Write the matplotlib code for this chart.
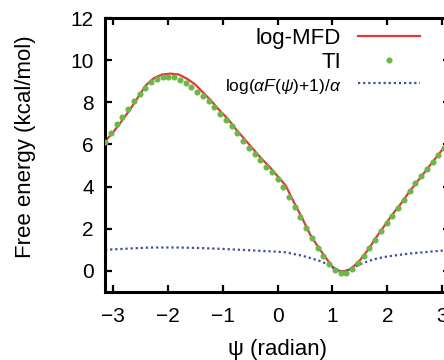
import numpy as np
import matplotlib
matplotlib.use('Agg')
import matplotlib.pyplot as plt

plt.rcParams['font.family'] = ['Liberation Sans', 'DejaVu Sans']
plt.rcParams['mathtext.fontset'] = 'custom'
plt.rcParams['mathtext.rm'] = 'Liberation Sans'
plt.rcParams['mathtext.it'] = 'Liberation Sans:italic'

# log-MFD free energy profile (kcal/mol)
psi_mfd = [-3.1416, -3.0, -2.85, -2.7, -2.55, -2.4, -2.25, -2.1, -1.95, -1.8,
           -1.65, -1.5, -1.35, -1.2, -1.05, -0.9, -0.75, -0.6, -0.45, -0.3,
           -0.15, 0.0, 0.15, 0.3, 0.45, 0.6, 0.75, 0.9, 1.0, 1.1,
           1.2, 1.3, 1.4, 1.5, 1.65, 1.8, 1.95, 2.1, 2.25, 2.4,
           2.55, 2.7, 2.85, 3.0, 3.1416]
f_mfd = [6.15, 6.55, 7.07, 7.6, 8.2, 8.8, 9.15, 9.32, 9.36, 9.32,
         9.12, 8.85, 8.45, 8.05, 7.6, 7.2, 6.7, 6.25, 5.8, 5.35,
         4.95, 4.5, 4.05, 3.25, 2.5, 1.7, 1.1, 0.55, 0.2, 0.02,
         -0.03, 0.05, 0.25, 0.5, 1.0, 1.6, 2.15, 2.7, 3.2, 3.75,
         4.25, 4.75, 5.25, 5.75, 6.2]

# transformed profile log(aF+1)/a
f_log = [1.00, 1.02, 1.04, 1.06, 1.08, 1.10, 1.11, 1.11, 1.11, 1.11,
         1.10, 1.09, 1.08, 1.06, 1.05, 1.03, 1.01, 0.99, 0.97, 0.95,
         0.93, 0.91, 0.88, 0.80, 0.72, 0.61, 0.49, 0.33, 0.16, 0.02,
         -0.03, 0.05, 0.18, 0.31, 0.46, 0.58, 0.66, 0.72, 0.77, 0.82,
         0.86, 0.89, 0.93, 0.96, 1.00]

# thermodynamic integration, every 6 degrees
psi_ti_deg = list(range(-180, 181, 6))
f_ti = [6.10, 6.55, 6.95, 7.30, 7.68, 8.05, 8.40, 8.70, 8.95, 9.10,
        9.20, 9.22, 9.18, 9.08, 8.92, 8.72, 8.50, 8.28, 8.05, 7.78,
        7.45, 7.15, 6.88, 6.52, 6.18, 5.85, 5.55, 5.25, 4.95, 4.68,
        4.38, 3.98, 3.50, 3.02, 2.55, 2.05, 1.55, 1.10, 0.70, 0.32,
        0.05, -0.10, -0.08, 0.10, 0.38, 0.72, 1.10, 1.48, 1.88, 2.25,
        2.62, 3.00, 3.38, 3.78, 4.15, 4.50, 4.82, 5.15, 5.50, 5.82,
        6.15]
psi_ti = np.deg2rad(psi_ti_deg)

fig = plt.figure(figsize=(4.44, 3.6), dpi=100)
ax = fig.add_axes([0.2365, 0.189, 0.777, 0.761])

ax.plot(psi_mfd, f_mfd, color='#e0393a', lw=1.6, label='log-MFD', zorder=2)
ax.plot(psi_ti, f_ti, 'o', color='#6cb847', ms=4.4, mew=0, label='TI', zorder=3)
ax.plot(psi_mfd, f_log, color='#3e4ea3', lw=1.6, ls=(0, (1, 1.3)),
        label=r'log($\alpha F(\psi)$+1)/$\alpha$', zorder=2)

ax.set_xlim(-np.pi, np.pi)
ax.set_ylim(-1, 12)
ax.set_xticks([-3, -2, -1, 0, 1, 2, 3])
ax.set_yticks([0, 2, 4, 6, 8, 10, 12])
ax.tick_params(direction='in', top=True, right=True, length=5, width=1.6,
               labelsize=15)
ax.tick_params(axis='x', pad=11)
ax.tick_params(axis='y', pad=8)
for s in ax.spines.values():
    s.set_linewidth(2.2)

ax.set_xlabel(r'ψ (radian)', fontsize=16, labelpad=9.5)
ax.set_ylabel('Free energy (kcal/mol)', fontsize=16)
ax.yaxis.set_label_coords(-0.2, 0.53)

leg = ax.legend(loc='upper right', bbox_to_anchor=(0.913, 0.963),
                markerfirst=False, frameon=False, numpoints=1, fontsize=16,
                handlelength=2.8, handletextpad=0.75, labelspacing=0.12,
                borderpad=0, borderaxespad=0)
leg.get_texts()[2].set_fontsize(12.5)

fig.savefig('out.png', dpi=100)
